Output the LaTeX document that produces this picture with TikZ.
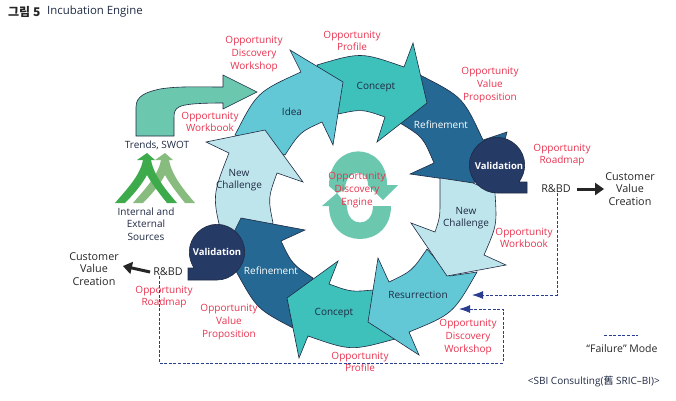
\documentclass[tikz,border=0pt]{standalone}
\usepackage{fontspec}
\setmainfont{Open Sans}
\newfontfamily\hangul{Noto Sans CJK KR}
\usetikzlibrary{arrows.meta}

\definecolor{ideablue}{HTML}{62C8D6}
\definecolor{conceptteal}{HTML}{3EC1BB}
\definecolor{refineblue}{HTML}{246893}
\definecolor{challengeblue}{HTML}{BEE5EC}
\definecolor{validnavy}{HTML}{263A66}
\definecolor{swirlgreen}{HTML}{6BC7AE}
\definecolor{oppred}{HTML}{E8334F}
\definecolor{labelnavy}{HTML}{1F2A44}
\definecolor{failblue}{HTML}{2B3D8F}
\definecolor{forkdark}{HTML}{3DAB4C}
\definecolor{forklight}{HTML}{88BC7E}

\def\sourcefork#1#2{
	\fill[#2, shift={(#1,0)}] (137,160) -- (147,153) -- (155,160) -- (151,160)
		.. controls (154,176) and (166,190) .. (177,203) -- (167,203)
		.. controls (159,193) and (152,184) .. (147,175)
		.. controls (142,184) and (135,193) .. (125,203) -- (115,203)
		.. controls (126,190) and (140,176) .. (143,160) -- cycle;
}

\begin{document}
\begin{tikzpicture}[x=1pt, y=-1pt,
	blade/.style={draw=labelnavy, line width=0.6pt, line join=miter},
	lbl/.style={inner sep=0pt, align=center, text=labelnavy, font=\fontsize{10}{12.6}\selectfont},
	opp/.style={lbl, text=oppred},
	whitelbl/.style={lbl, text=white},
	biglbl/.style={lbl, text=black!85, font=\fontsize{10.8}{12.8}\selectfont},
	validlbl/.style={whitelbl, font=\bfseries\fontsize{9.5}{12}\selectfont},
	failline/.style={draw=failblue, line width=0.9pt, dash pattern=on 3pt off 1.6pt},
	failhead/.style={failline, -{Latex[length=11pt, width=8pt]}},
	valuearrow/.style={draw=black!85, line width=3pt, -{Triangle[length=9pt, width=12pt]}}
]
	\useasboundingbox (0,0) rectangle (676,400);

	\node[lbl, anchor=west, font=\hangul\bfseries\fontsize{12}{14}\selectfont, text=black!85] (figno) at (8,12) {그림 5};
	\node[lbl, anchor=west, font=\fontsize{11.4}{14}\selectfont] (figtitle) at (47,12) {Incubation Engine};

	\fill[swirlgreen, draw=labelnavy, line width=0.6pt] (136,136) -- (136,107)
		.. controls (136,96) and (146,92) .. (160,89)
		.. controls (178,86) and (200,87) .. (223,87)
		-- (223,75) -- (257,92) -- (223,109) -- (223,103)
		.. controls (200,103) and (184,104) .. (179,107)
		.. controls (175,109) and (174,112) .. (174,118)
		-- (174,136) -- cycle;

	\sourcefork{18}{forklight}
	\sourcefork{0}{forkdark}

	\fill[swirlgreen] (329,186) .. controls (329,140) and (387,140) .. (387,185)
		-- (398,185) -- (383,200) -- (368,185)
		.. controls (368,168) and (345,168) .. (345,190)
		-- (337,193) -- cycle;
	\fill[swirlgreen] (329,206) .. controls (329,250) and (391,250) .. (391,206)
		-- (373,206) .. controls (373,228) and (347,228) .. (347,206)
		-- (337,193) -- (322,206) -- cycle;

	\filldraw[blade, fill=refineblue] (420,75) .. controls (463,97) .. (483,140)
		-- (507,132) -- (497,170) -- (473,183) -- (410,174) -- (434,163)
		.. controls (423,137) .. (400,123) -- cycle;
	\filldraw[blade, fill=conceptteal] (317,65) .. controls (361,52) .. (404,67)
		-- (413,43) -- (427,103) -- (377,142) -- (385,117)
		.. controls (362,109) .. (338,114) -- cycle;
	\filldraw[blade, fill=ideablue] (235,135) .. controls (257,92) .. (301,72)
		-- (290,50) -- (343,82) -- (333,145) -- (322,122)
		.. controls (300,132) .. (285,155) -- cycle;
	\filldraw[blade, fill=challengeblue] (206,142) -- (265,130) -- (303,182)
		-- (277,173) .. controls (268,198) .. (273,223) -- (240,260) -- (223,240)
		.. controls (212,196) .. (229,153) -- cycle;
	\filldraw[blade, fill=refineblue] (305,230) -- (241,218) -- (225,250) -- (237,273)
		.. controls (257,309) .. (293,328) -- (313,278)
		.. controls (292,264) .. (281,241) -- cycle;
	\filldraw[blade, fill=conceptteal] (338,261) -- (329,284)
		.. controls (351,292) .. (373,290) -- (395,339)
		.. controls (351,351) .. (308,336) -- (299,358) -- (287,298) -- cycle;
	\filldraw[blade, fill=ideablue] (427,249) .. controls (412,271) .. (389,282)
		-- (378,258) -- (368,322) -- (419,355) -- (409,332)
		.. controls (453,314) .. (477,272) -- (450,276) -- cycle;
	\filldraw[blade, fill=challengeblue] (440,178) -- (473,183) -- (495,193)
		.. controls (497,225) .. (484,255) -- (506,265) -- (447,276) -- (411,223) -- (435,232)
		.. controls (440,217) .. (440,200) -- cycle;

	\filldraw[blade, fill=validnavy] (519,182) -- (527,182) -- (527,193) -- (497,193)
		.. controls (482,193) and (469.3,180) .. (469.3,165)
		.. controls (469.3,150) and (482,137.3) .. (497,137.3)
		.. controls (512,137.3) and (524.7,150) .. (524.7,165)
		.. controls (524.7,171) and (522.5,177) .. (519,182) -- cycle;
	\filldraw[blade, fill=validnavy] (194,268) -- (188,268) -- (188,280) -- (217,280)
		.. controls (232,280) and (244.7,267) .. (244.7,252)
		.. controls (244.7,237) and (232,224.3) .. (217,224.3)
		.. controls (202,224.3) and (189.3,237) .. (189.3,252)
		.. controls (189.3,258) and (191,263) .. (194,268) -- cycle;

	\node[opp] (oppworkshopT) at (254,54) {Opportunity\\Discovery\\Workshop};
	\node[opp] (oppprofileT) at (352,41) {Opportunity\\Profile};
	\node[opp] (oppvalueT) at (490,85) {Opportunity\\Value\\Proposition};
	\node[opp] (oppmapT) at (562,155) {Opportunity\\Roadmap};
	\node[opp] (oppbookT) at (210,122) {Opportunity\\Workbook};
	\node[opp] (oppengine) at (357,190) {Opportunity\\Discovery\\Engine};
	\node[opp] (oppbookB) at (524,238) {Opportunity\\Workbook};
	\node[opp] (oppworkshopB) at (468,337) {Opportunity\\Discovery\\Workshop};
	\node[opp] (oppprofileB) at (360,362) {Opportunity\\Profile};
	\node[opp] (oppvalueB) at (229,322) {Opportunity\\Value\\Proposition};
	\node[opp] (oppmapB) at (164,297) {Opportunity\\Roadmap};

	\node[lbl] (idea) at (292,112) {Idea};
	\node[lbl] (conceptT) at (376,87) {Concept};
	\node[whitelbl] (refineT) at (441,125) {Refinement};
	\node[validlbl] (validT) at (499,166) {Validation};
	\node[lbl] (challengeL) at (239,180) {New\\Challenge};
	\node[lbl] (challengeR) at (466,218) {New\\Challenge};
	\node[lbl] (resurrect) at (418,295) {Resurrection};
	\node[lbl] (conceptB) at (334,313) {Concept};
	\node[whitelbl] (refineB) at (271,271) {Refinement};
	\node[validlbl] (validB) at (217,252) {Validation};

	\node[lbl] (trends) at (157,145) {Trends, SWOT};
	\node[lbl] (sources) at (146,224) {Internal and\\External\\Sources};

	\node[biglbl] (rbdR) at (556,189) {R\&BD};
	\node[biglbl] (valueR) at (630,189) {Customer\\Value\\Creation};
	\node[biglbl] (rbdL) at (168,272) {R\&BD};
	\node[biglbl] (valueL) at (94,269) {Customer\\Value\\Creation};

	\draw[valuearrow] ([xshift=6pt]rbdR.east) -- ([xshift=-1pt]valueR.west);
	\draw[valuearrow] ([xshift=-3pt]rbdL.west) -- ([xshift=4pt,yshift=3pt]valueL.east);

	\coordinate (retryA) at (472,295);
	\coordinate (retryB) at (503,363);
	\coordinate (retryC) at (459,309);

	\draw[failhead] ([xshift=1pt]rbdR.south) |- (retryA);
	\draw[failhead] ([xshift=-9pt]rbdL.south) |- (retryB) |- (retryC);

	\coordinate (legendA) at (604,335);
	\coordinate (legendB) at (638,335);
	\draw[failline] (legendA) -- (legendB);
	\node[biglbl, font=\fontsize{10.5}{12}\selectfont] (legend) at (622,349) {“Failure” Mode};
	\node[lbl, anchor=east] (credit) at (660,381) {<SBI Consulting({\hangul 舊} SRIC–BI)>};
\end{tikzpicture}
\end{document}
